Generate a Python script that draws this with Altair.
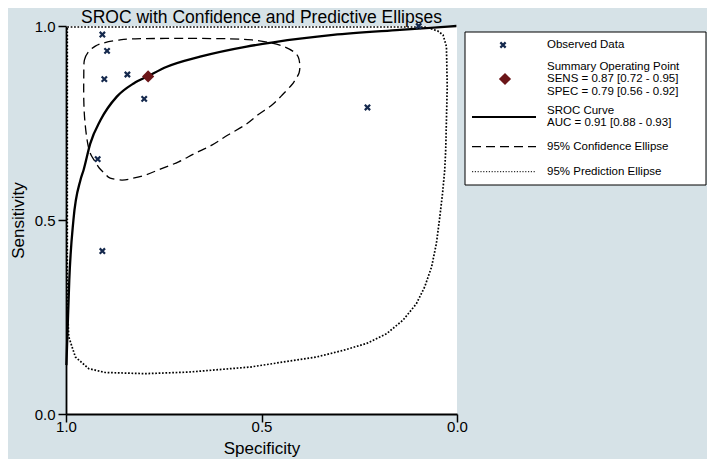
import altair as alt
import pandas as pd

FONT = "Liberation Sans"

# ---- data ----
obs_spec = [0.907, 0.895, 0.902, 0.843, 0.800, 0.919, 0.907, 0.229, 0.098]
obs_sens = [0.978, 0.936, 0.863, 0.875, 0.812, 0.657, 0.420, 0.790, 1.000]

summary_spec = [0.79]
summary_sens = [0.87]

sroc_spec = [0.999, 0.996, 0.9916, 0.981, 0.963, 0.955, 0.938, 0.912, 0.870, 0.827,
             0.790, 0.742, 0.657, 0.538, 0.470, 0.317, 0.146, 0.0015]
sroc_sens = [0.126, 0.216, 0.345, 0.500, 0.603, 0.629, 0.697, 0.757, 0.818, 0.852,
             0.871, 0.895, 0.921, 0.947, 0.958, 0.977, 0.990, 1.000]

conf_spec = [0.9545, 0.953, 0.943, 0.925, 0.905, 0.869, 0.823, 0.695, 0.580, 0.524,
             0.473, 0.440, 0.417, 0.406, 0.402, 0.404, 0.414, 0.423, 0.447, 0.474,
             0.509, 0.542, 0.586, 0.627, 0.670, 0.712, 0.759, 0.797, 0.831, 0.857,
             0.887, 0.900, 0.915, 0.925, 0.938, 0.946, 0.952, 0.9545]
conf_sens = [0.874, 0.912, 0.933, 0.948, 0.956, 0.963, 0.967, 0.968, 0.967, 0.964,
             0.956, 0.946, 0.933, 0.920, 0.899, 0.879, 0.861, 0.848, 0.822, 0.796,
             0.771, 0.745, 0.719, 0.693, 0.672, 0.650, 0.631, 0.616, 0.607, 0.603,
             0.608, 0.619, 0.634, 0.650, 0.672, 0.706, 0.758, 0.809]

pred_spec = [0.9967, 0.529, 0.0825, 0.0697, 0.049, 0.0357, 0.027, 0.025, 0.0289, 0.0314,
             0.037, 0.044, 0.0526, 0.065, 0.0825, 0.104, 0.138, 0.180, 0.231, 0.291,
             0.359, 0.444, 0.529, 0.602, 0.687, 0.7975, 0.900, 0.942, 0.976, 0.993,
             0.9967, 0.9967]
pred_sens = [0.9974, 0.9974, 0.9974, 0.994, 0.987, 0.977, 0.947, 0.843, 0.680, 0.629,
             0.568, 0.508, 0.440, 0.379, 0.328, 0.284, 0.242, 0.207, 0.182, 0.164,
             0.147, 0.134, 0.121, 0.115, 0.108, 0.104, 0.107, 0.117, 0.147, 0.199,
             0.293, 0.9974]

x_ticks = [1.0, 0.5, 0.0]
y_ticks = [0.0, 0.5, 1.0]

title_text = "SROC with Confidence and Predictive Ellipses"
legend_obs = "Observed Data"
legend_summary = ["Summary Operating Point", "SENS = 0.87 [0.72 - 0.95]", "SPEC = 0.79 [0.56 - 0.92]"]
legend_sroc = ["SROC Curve", "AUC = 0.91 [0.88 - 0.93]"]
legend_conf = "95% Confidence Ellipse"
legend_pred = "95% Prediction Ellipse"

NAVY = "#15294d"
MAROON = "#6b1518"
XSHAPE = "M-1,-1L1,1M-1,1L1,-1"

# ---- tables ----
obs_df = pd.DataFrame({"spec": obs_spec, "sens": obs_sens})
sum_df = pd.DataFrame({"spec": summary_spec, "sens": summary_sens})
sroc_df = pd.DataFrame({"spec": sroc_spec, "sens": sroc_sens, "i": range(len(sroc_spec))})
conf_df = pd.DataFrame({"spec": conf_spec, "sens": conf_sens, "i": range(len(conf_spec))})
pred_df = pd.DataFrame({"spec": pred_spec, "sens": pred_sens, "i": range(len(pred_spec))})
one = pd.DataFrame({"k": [0]})

xscale = alt.Scale(domain=[0, 1], reverse=True, nice=False, zero=False)
yscale = alt.Scale(domain=[0, 1], nice=False, zero=False)

xaxis = alt.Axis(values=x_ticks, format=".1f", title="Specificity", grid=False,
                 tickSize=8, tickWidth=1.5, tickColor="black", domainColor="black",
                 domainWidth=1.8, labelFontSize=15, labelFont=FONT, labelColor="black",
                 labelPadding=-3, labelFlush=False, titleFont=FONT, titleFontSize=17,
                 titleFontWeight="normal", titleColor="black", titlePadding=6)
yaxis = alt.Axis(values=y_ticks, format=".1f", title="Sensitivity", grid=False,
                 tickSize=8, tickWidth=1.5, tickColor="black", domainColor="black",
                 domainWidth=1.8, labelFontSize=15, labelFont=FONT, labelColor="black",
                 labelPadding=3, labelFlush=False, titleFont=FONT, titleFontSize=17,
                 titleFontWeight="normal", titleColor="black", titlePadding=7)

X = alt.X("spec:Q", scale=xscale, axis=xaxis)
Y = alt.Y("sens:Q", scale=yscale, axis=yaxis)

pred = alt.Chart(pred_df).mark_line(color="black", strokeWidth=1.7, strokeDash=[1.7, 1.7]).encode(
    x=X, y=Y, order="i:Q")
conf = alt.Chart(conf_df).mark_line(color="black", strokeWidth=1.3, strokeDash=[9, 5],
                                    interpolate="cardinal-closed").encode(
    x=X, y=Y, order="i:Q")
sroc = alt.Chart(sroc_df).mark_line(color="black", strokeWidth=2.3,
                                    interpolate="monotone").encode(
    x=X, y=Y, order="i:Q")
obs = alt.Chart(obs_df).mark_point(shape=XSHAPE, size=28, filled=False, color=NAVY,
                                   strokeWidth=2.2, opacity=1).encode(x=X, y=Y)
summ = alt.Chart(sum_df).mark_point(shape="diamond", size=150, filled=True, color=MAROON,
                                    opacity=1).encode(x=X, y=Y)

# ---- legend (drawn beside the plot area) ----
LX = 481
box = alt.Chart(one).mark_rect(fill="white", stroke="black", strokeWidth=1).encode(
    x=alt.value(399), x2=alt.value(640), y=alt.value(6), y2=alt.value(159))
leg_obs_sym = alt.Chart(one).mark_point(shape=XSHAPE, size=28, filled=False, color=NAVY,
                                        strokeWidth=2.2, opacity=1).encode(
    x=alt.value(437), y=alt.value(19))
leg_sum_sym = alt.Chart(one).mark_point(shape="diamond", size=150, filled=True, color=MAROON,
                                        opacity=1).encode(x=alt.value(439), y=alt.value(53))
leg_sroc_line = alt.Chart(one).mark_rule(color="black", strokeWidth=2).encode(
    x=alt.value(406), x2=alt.value(470), y=alt.value(91))
leg_conf_line = alt.Chart(one).mark_rule(color="black", strokeWidth=1.3, strokeDash=[9, 5]).encode(
    x=alt.value(406), x2=alt.value(470), y=alt.value(120.7))
leg_pred_line = alt.Chart(one).mark_rule(color="black", strokeWidth=1, strokeDash=[1.2, 1.6]).encode(
    x=alt.value(406), x2=alt.value(470), y=alt.value(145.7))

def txt(s, y):
    return alt.Chart(one).mark_text(text=s, align="left", baseline="middle", font=FONT,
                                    fontSize=11.5, color="black").encode(
        x=alt.value(LX), y=alt.value(y))

texts = [txt(legend_obs, 19),
         txt(legend_summary[0], 40.5), txt(legend_summary[1], 53), txt(legend_summary[2], 65.5),
         txt(legend_sroc[0], 84.5), txt(legend_sroc[1], 97),
         txt(legend_conf, 120.7), txt(legend_pred, 145.7)]

chart = alt.layer(pred, conf, sroc, obs, summ, box, leg_obs_sym, leg_sum_sym,
                  leg_sroc_line, leg_conf_line, leg_pred_line, *texts).properties(
    width=391, height=388,
    title=alt.TitleParams(title_text, font=FONT, fontSize=17.5, fontWeight="normal",
                          color="black", anchor="middle", offset=-8),
    padding={"left": 58, "top": 18, "right": 250, "bottom": 45},
    autosize=alt.AutoSizeParams(type="none"),
    background="#d6e2e7",
).configure_view(fill="white", stroke=None)

chart.save("out.html", embed_options={"renderer": "svg", "actions": False})
